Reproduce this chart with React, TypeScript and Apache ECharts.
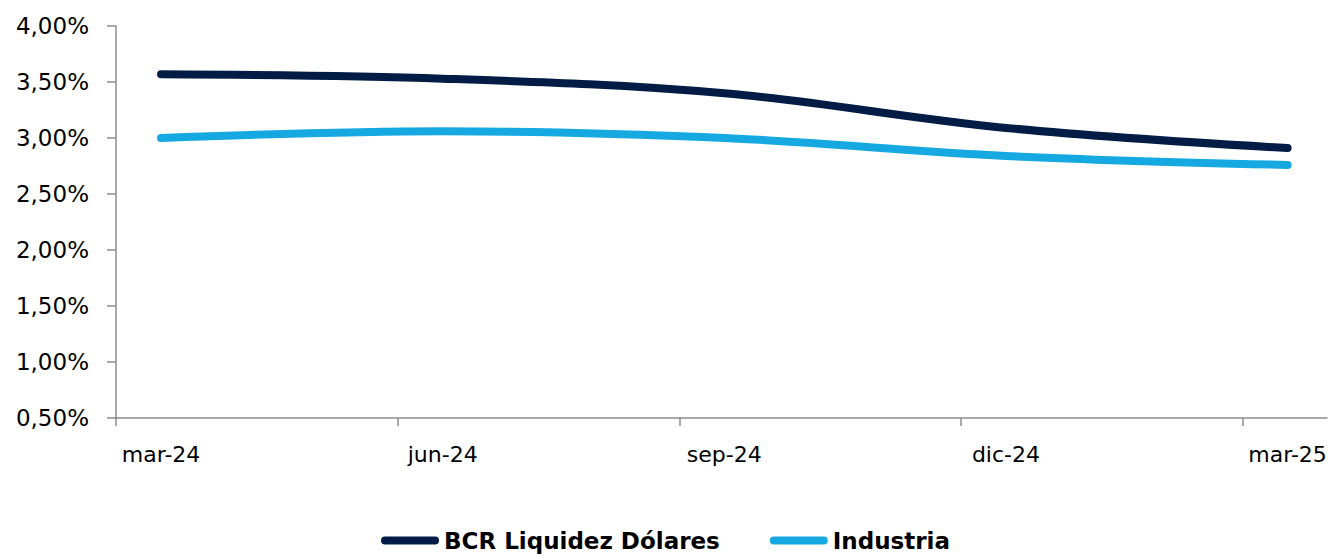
import React, { useEffect, useRef } from "react";
import * as echarts from "echarts";

const categories = ["mar-24", "jun-24", "sep-24", "dic-24", "mar-25"];
const bcrValues = [3.57, 3.53, 3.4, 3.09, 2.91];
const industriaValues = [3.0, 3.06, 3.0, 2.84, 2.76];
const seriesNames = ["BCR Liquidez Dólares", "Industria"];
const colors = ["#021C45", "#16A9E1"];

const tickOffset = 0.16;
const FONT = "'DejaVu Sans', sans-serif";

export default function App() {
  const ref = useRef<HTMLDivElement>(null);
  useEffect(() => {
    document.body.style.margin = "0";
    const chart = echarts.init(ref.current!, null, { renderer: "svg" });
    const idx = categories.map((_, i) => i);
    const capsule = "path://M4,0 H54 A4,4 0 0 1 54,8 H4 A4,4 0 0 1 4,0 Z";
    chart.setOption({
      animation: false,
      backgroundColor: "#ffffff",
      grid: { left: 116, right: 4, top: 26, bottom: 140 },
      legend: {
        top: 524,
        left: "center",
        itemWidth: 58,
        itemHeight: 8,
        itemGap: 50,
        textStyle: { fontFamily: FONT, fontSize: 23, fontWeight: "bold", color: "#000" },
        data: seriesNames.map((n) => ({ name: n, icon: capsule })),
      },
      xAxis: {
        type: "value",
        min: -tickOffset,
        max: categories.length - 1 + 0.14,
        axisLine: { show: true, onZero: false, lineStyle: { color: "#8c8c8c", width: 1.5 } },
        axisTick: {
          show: true,
          length: 8,
          lineStyle: { color: "#8c8c8c", width: 1.5 },
          customValues: idx.map((i) => i - tickOffset),
        },
        axisLabel: {
          customValues: idx,
          margin: 25,
          fontFamily: FONT,
          fontSize: 22,
          color: "#000",
          formatter: (v: number) => categories[Math.round(v)] ?? "",
        },
        splitLine: { show: false },
      },
      yAxis: {
        type: "value",
        min: 0.5,
        max: 4,
        interval: 0.5,
        axisLine: { show: true, onZero: false, lineStyle: { color: "#8c8c8c", width: 1.5 } },
        axisTick: { show: true, length: 9, lineStyle: { color: "#8c8c8c", width: 1.5 } },
        axisLabel: {
          margin: 27,
          fontFamily: FONT,
          fontSize: 23,
          color: "#000",
          formatter: (v: number) => v.toFixed(2).replace(".", ",") + "%",
        },
        splitLine: { show: false },
      },
      series: [
        {
          name: seriesNames[0],
          type: "line",
          smooth: 0.35,
          showSymbol: false,
          color: colors[0],
          lineStyle: { width: 8, color: colors[0], cap: "round" },
          data: bcrValues.map((v, i) => [i, v]),
        },
        {
          name: seriesNames[1],
          type: "line",
          smooth: 0.35,
          showSymbol: false,
          color: colors[1],
          lineStyle: { width: 8, color: colors[1], cap: "round" },
          data: industriaValues.map((v, i) => [i, v]),
        },
      ],
    });
    return () => chart.dispose();
  }, []);
  return <div ref={ref} style={{ width: 1331, height: 558 }} />;
}
